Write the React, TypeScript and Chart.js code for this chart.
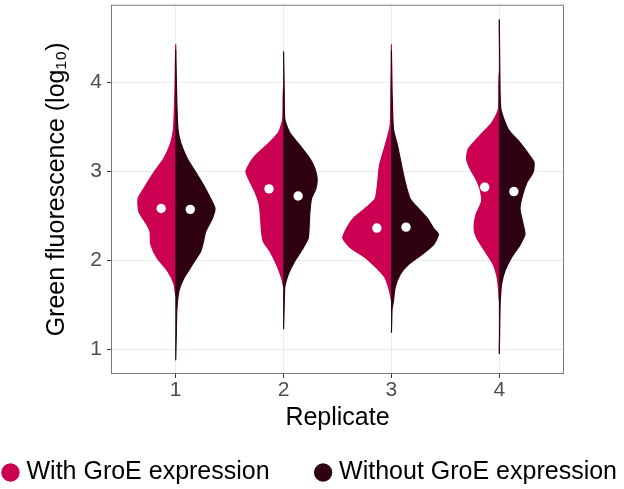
import React, { useEffect, useRef } from 'react';
import { Chart, registerables } from 'chart.js';

Chart.register(...registerables);

// ---- data ----
const categories = [1, 2, 3, 4];
const tickLabels = ['1', '2', '3', '4'];
const yTickValues = [1, 2, 3, 4];
const seriesNames = ['With GroE expression', 'Without GroE expression'];
const withMeans = [2.58, 2.8, 2.36, 2.82];
const withoutMeans = [2.57, 2.72, 2.37, 2.77];

// violin half profiles: y values (log10 fluorescence) and half-widths (x-axis units)
const rep1WithY = [1.6, 1.73, 1.88, 2.03, 2.18, 2.32, 2.4, 2.54, 2.69, 2.84, 2.99, 3.14, 3.32, 3.47, 3.75, 3.99, 4.42];
const rep1WithW = [0, 0.016, 0.077, 0.176, 0.232, 0.238, 0.269, 0.34, 0.349, 0.278, 0.201, 0.111, 0.046, 0.021, 0.011, 0.006, 0];
const rep1WithoutY = [0.88, 1.2, 1.45, 1.66, 1.8, 1.95, 2.1, 2.21, 2.32, 2.47, 2.58, 2.69, 2.84, 2.99, 3.14, 3.32, 3.47, 3.75, 3.99, 4.36];
const rep1WithoutW = [0, 0.006, 0.011, 0.031, 0.077, 0.155, 0.232, 0.257, 0.278, 0.34, 0.364, 0.324, 0.259, 0.185, 0.108, 0.046, 0.021, 0.011, 0.006, 0];

const rep2WithY = [1.7, 1.8, 1.95, 2.1, 2.21, 2.32, 2.47, 2.62, 2.77, 2.88, 2.99, 3.06, 3.17, 3.29, 3.43, 3.58, 3.8, 3.95];
const rep2WithW = [0, 0.019, 0.065, 0.127, 0.188, 0.204, 0.213, 0.225, 0.266, 0.312, 0.349, 0.327, 0.266, 0.158, 0.049, 0.009, 0.005, 0];
const rep2WithoutY = [1.23, 1.5, 1.7, 1.84, 1.99, 2.14, 2.25, 2.4, 2.54, 2.69, 2.8, 2.91, 3.03, 3.14, 3.29, 3.43, 3.58, 3.9, 4.34];
const rep2WithoutW = [0, 0.006, 0.012, 0.044, 0.105, 0.183, 0.229, 0.238, 0.244, 0.259, 0.299, 0.312, 0.29, 0.244, 0.151, 0.058, 0.012, 0.006, 0];

const rep3WithY = [1.55, 1.66, 1.8, 1.91, 2.03, 2.14, 2.25, 2.36, 2.47, 2.58, 2.69, 2.84, 3.06, 3.29, 3.51, 3.9, 4.42];
const rep3WithW = [0, 0.019, 0.058, 0.136, 0.244, 0.383, 0.451, 0.414, 0.352, 0.244, 0.151, 0.13, 0.111, 0.058, 0.012, 0.006, 0];
const rep3WithoutY = [1.19, 1.45, 1.54, 1.69, 1.84, 1.95, 2.06, 2.17, 2.29, 2.36, 2.47, 2.58, 2.69, 2.88, 3.06, 3.29, 3.47, 3.9, 4.35];
const rep3WithoutW = [0, 0.006, 0.019, 0.034, 0.081, 0.158, 0.281, 0.389, 0.436, 0.389, 0.334, 0.25, 0.173, 0.127, 0.095, 0.056, 0.019, 0.006, 0];

const rep4WithY = [1.55, 1.66, 1.8, 1.95, 2.1, 2.25, 2.36, 2.51, 2.66, 2.8, 2.91, 3.03, 3.14, 3.25, 3.4, 3.54, 3.69, 3.95, 4.1];
const rep4WithW = [0, 0.006, 0.019, 0.056, 0.133, 0.21, 0.234, 0.216, 0.164, 0.179, 0.216, 0.272, 0.303, 0.287, 0.179, 0.071, 0.009, 0.005, 0];
const rep4WithoutY = [0.95, 1.4, 1.54, 1.73, 1.88, 2.03, 2.17, 2.29, 2.43, 2.58, 2.73, 2.88, 2.99, 3.1, 3.17, 3.32, 3.47, 3.69, 4.0, 4.7];
const rep4WithoutW = [0, 0.006, 0.009, 0.021, 0.053, 0.114, 0.192, 0.238, 0.216, 0.192, 0.216, 0.259, 0.315, 0.322, 0.285, 0.192, 0.083, 0.016, 0.006, 0];

const withProfiles = [
  { y: rep1WithY, w: rep1WithW },
  { y: rep2WithY, w: rep2WithW },
  { y: rep3WithY, w: rep3WithW },
  { y: rep4WithY, w: rep4WithW },
];
const withoutProfiles = [
  { y: rep1WithoutY, w: rep1WithoutW },
  { y: rep2WithoutY, w: rep2WithoutW },
  { y: rep3WithoutY, w: rep3WithoutW },
  { y: rep4WithoutY, w: rep4WithoutW },
];

// ---- styles ----
const PINK = '#CC0052';
const DARK = '#2E0113';
const DODGE = 0.135;
const SEAM_OVERLAP = 0.004;
const FONT = "'Liberation Sans', Arial, Helvetica, sans-serif";
const SIDE_BLEED = 50;

const panelBorder = {
  id: 'panelBorder',
  afterDatasetsDraw(chart: any) {
    const { ctx, chartArea } = chart;
    const { left, top, right, bottom } = chartArea;
    ctx.save();
    ctx.strokeStyle = '#7a7a7a';
    ctx.lineWidth = 1;
    ctx.strokeRect(left + 0.5, top + 0.5, right - left - 1, bottom - top - 1);
    ctx.restore();
  },
};

function violinHalf(cat: number, side: number, prof: { y: number[]; w: number[] }, color: string) {
  const n = prof.y.length;
  const outline = prof.y.map((v, i) => ({ x: cat + side * prof.w[i], y: v }));
  // close slightly across the centre line to avoid an anti-aliasing seam
  const data = [
    { x: cat - side * SEAM_OVERLAP, y: prof.y[0] },
    ...outline,
    { x: cat - side * SEAM_OVERLAP, y: prof.y[n - 1] },
  ];
  return {
    type: 'line',
    data,
    showLine: true,
    fill: 'shape',
    backgroundColor: color,
    borderColor: color,
    borderWidth: 1.2,
    pointRadius: 0,
    pointHoverRadius: 0,
    tension: 0.2,
    order: side < 0 ? 3 : 2,
    xAxisID: 'x',
    yAxisID: 'y',
  };
}

export default function App() {
  const ref = useRef<HTMLCanvasElement | null>(null);

  useEffect(() => {
    document.body.style.margin = '0';
    document.body.style.overflow = 'hidden';
    const canvas = ref.current;
    if (!canvas) return;

    const datasets: any[] = [];
    datasets.push({
      type: 'scatter',
      label: 'means',
      data: [
        ...categories.map((c, i) => ({ x: c - DODGE, y: withMeans[i] })),
        ...categories.map((c, i) => ({ x: c + DODGE, y: withoutMeans[i] })),
      ],
      pointRadius: 4.7,
      pointBackgroundColor: '#ffffff',
      pointBorderWidth: 0,
      pointBorderColor: '#ffffff',
      showLine: false,
      order: 0,
      xAxisID: 'x',
      yAxisID: 'y',
    });
    categories.forEach((c, i) => {
      datasets.push(violinHalf(c, -1, withProfiles[i], PINK));
      datasets.push(violinHalf(c, 1, withoutProfiles[i], DARK));
    });

    const chart = new Chart(canvas, {
      type: 'scatter',
      data: { datasets },
      plugins: [panelBorder],
      options: {
        responsive: false,
        animation: false,
        events: [],
        layout: { padding: { top: 1, left: -SIDE_BLEED, right: -SIDE_BLEED, bottom: -6 } },
        font: { family: FONT },
        plugins: {
          tooltip: { enabled: false },
          legend: {
            display: true,
            position: 'bottom',
            align: 'center',
            labels: {
              usePointStyle: true,
              boxWidth: 7,
              boxHeight: 13,
              padding: 50,
              color: '#000000',
              font: { family: FONT, size: 25 },
              generateLabels: () => [
                { text: seriesNames[0], fillStyle: PINK, strokeStyle: PINK, lineWidth: 0, pointStyle: 'circle', hidden: false, datasetIndex: 0 },
                { text: seriesNames[1], fillStyle: DARK, strokeStyle: DARK, lineWidth: 0, pointStyle: 'circle', hidden: false, datasetIndex: 1 },
              ],
            },
          },
        },
        scales: {
          x: {
            type: 'linear',
            position: 'bottom',
            min: 0.4,
            max: 4.6,
            afterBuildTicks: (s: any) => {
              s.ticks = categories.map((v) => ({ value: v }));
            },
            afterFit: (s: any) => {
              s.height = 36;
              s.paddingLeft = 0;
              s.paddingRight = 0;
            },
            ticks: {
              autoSkip: false,
              maxRotation: 0,
              padding: 0,
              color: '#4D4D4D',
              font: { family: FONT, size: 21 },
              callback: (_v: any, i: number) => tickLabels[i],
            },
            grid: { color: '#EBEBEB', lineWidth: 1, tickColor: '#333333', tickLength: 4, drawTicks: true },
            border: { display: false },
            title: {
              display: true,
              text: 'Replicate',
              color: '#000000',
              font: { family: FONT, size: 25 },
              padding: { top: 0, bottom: -23 },
            },
          },
          y: {
            type: 'linear',
            position: 'left',
            min: 0.72,
            max: 4.87,
            afterBuildTicks: (s: any) => {
              s.ticks = yTickValues.map((v) => ({ value: v }));
            },
            afterFit: (s: any) => {
              s.width = 111 + SIDE_BLEED;
              s.paddingTop = 0;
              s.paddingBottom = 0;
            },
            ticks: {
              autoSkip: false,
              padding: 5,
              color: '#4D4D4D',
              font: { family: FONT, size: 21 },
              callback: (v: any) => String(v),
            },
            grid: { color: '#EBEBEB', lineWidth: 1, tickColor: '#333333', tickLength: 4, drawTicks: true },
            border: { display: false },
            title: {
              display: true,
              text: 'Green fluorescence (log₁₀)',
              color: '#000000',
              font: { family: FONT, size: 25 },
              padding: { top: 42 + SIDE_BLEED, bottom: 0 },
            },
          },
          yRight: {
            type: 'linear',
            position: 'right',
            display: true,
            ticks: { display: false },
            grid: { display: false },
            border: { display: false },
            afterFit: (s: any) => {
              s.width = 60 + SIDE_BLEED;
              s.paddingTop = 0;
              s.paddingBottom = 0;
            },
          },
        },
      } as any,
    } as any);

    return () => {
      chart.destroy();
    };
  }, []);

  return (
    <div style={{ width: 624, height: 489 }}>
      <canvas ref={ref} width={624} height={489} style={{ display: 'block' }} />
    </div>
  );
}
